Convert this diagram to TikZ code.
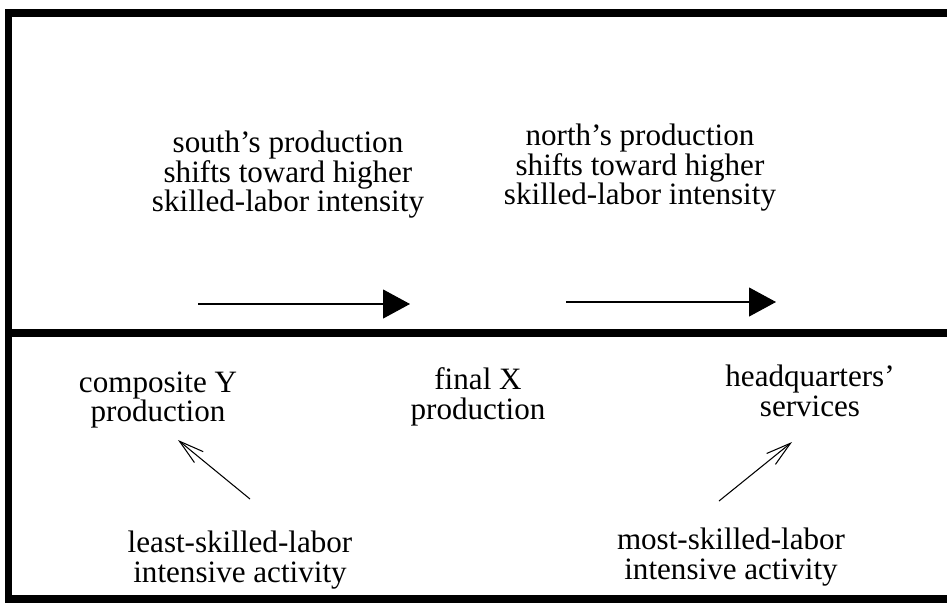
\documentclass[tikz,border=0pt]{standalone}
\usepackage{fontspec}
\setmainfont{Liberation Serif}
\usetikzlibrary{arrows.meta}

\begin{document}
\begin{tikzpicture}[x=0.02cm,y=-0.02cm,
  labeltext/.style={align=center,inner sep=0pt,font=\fontsize{17.7}{16.8}\selectfont},
  frameline/.style={line width=4.2pt,line join=miter},
  shiftarrow/.style={line width=0.6pt,-{Triangle[length=0.54cm,width=0.58cm]}},
  linkarrow/.style={line width=0.6pt,-{Straight Barb[length=0.5cm,width=0.28cm]}}]
  \useasboundingbox (0,0) rectangle (947,606);
  % frame and divider
  \draw[frameline] (947,13) -- (8.5,13) -- (8.5,599) -- (947,599);
  \draw[frameline] (8.5,333) -- (947,333);
  % upper panel
  \node[labeltext] (south) at (288,175) {south's production\\shifts toward higher\\skilled-labor intensity};
  \node[labeltext] (north) at (640,168) {north's production\\shifts toward higher\\skilled-labor intensity};
  \coordinate (southA) at (198,304);
  \coordinate (southB) at (410,304);
  \coordinate (northA) at (566,302);
  \coordinate (northB) at (776,302);
  \draw[shiftarrow] (southA) -- (southB);
  \draw[shiftarrow] (northA) -- (northB);
  % lower panel
  \node[labeltext] (compY) at (158,400) {composite Y\\production};
  \node[labeltext] (finalX) at (478,397) {final X\\production};
  \node[labeltext] (hq) at (810,391) {headquarters'\\services};
  \node[labeltext] (least) at (240,560) {least-skilled-labor\\intensive activity};
  \node[labeltext] (most) at (731,557) {most-skilled-labor\\intensive activity};
  \coordinate (leastTail) at (250,499);
  \coordinate (leastTip) at (178,440);
  \coordinate (mostTail) at (719,501);
  \coordinate (mostTip) at (792,442);
  \draw[linkarrow] (leastTail) -- (leastTip);
  \draw[linkarrow] (mostTail) -- (mostTip);
\end{tikzpicture}
\end{document}
